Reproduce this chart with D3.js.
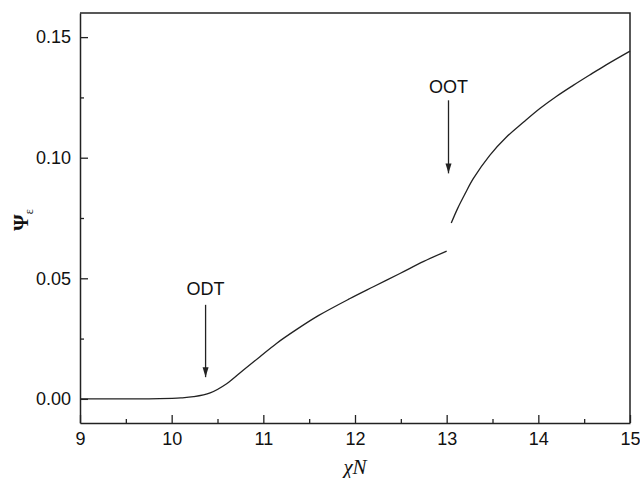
<!DOCTYPE html>
<html>
<head>
<meta charset="utf-8">
<script src="https://cdn.jsdelivr.net/npm/d3@7"></script>
<style>
  body { margin: 0; background: #fff; }
  svg { display: block; }
  .tick text { font-family: "Liberation Sans", Arial, sans-serif; }
</style>
</head>
<body>
<svg id="chart" width="640" height="478"></svg>
<script>
// DATA
const lowerX = [9.0, 9.5, 9.87, 10.1, 10.24, 10.42, 10.6, 10.78, 10.96, 11.14, 11.36, 11.6, 11.94, 12.2, 12.49, 12.75, 13.0];
const lowerY = [0, 0, 0.0001, 0.0004, 0.0009, 0.0025, 0.0063, 0.0119, 0.0174, 0.0229, 0.0287, 0.0345, 0.0415, 0.0465, 0.052, 0.057, 0.0613];
const upperX = [13.05, 13.12, 13.2, 13.29, 13.47, 13.65, 13.84, 14.02, 14.2, 14.38, 14.56, 14.74, 15.0];
const upperY = [0.0729, 0.079, 0.085, 0.0913, 0.101, 0.1085, 0.1148, 0.1205, 0.1255, 0.13, 0.1343, 0.1385, 0.1442];

const xTicks = [9, 10, 11, 12, 13, 14, 15];
const xMinor = [9.5, 10.5, 11.5, 12.5, 13.5, 14.5];
const yTicks = [0, 0.05, 0.1, 0.15];
const yMinor = [0.025, 0.075, 0.125];

// annotations: label, x, label baseline, arrow top, arrow tip
const notes = [
  { label: "ODT", x: 10.37, text: 0.0431, top: 0.039, tip: 0.009 },
  { label: "OOT", x: 13.02, text: 0.127, top: 0.1238, tip: 0.0935 },
];

// CANVAS SETUP
const margin = { top: 13, right: 10, bottom: 55, left: 80 };
const svg = d3.select("#chart");
const width = +svg.attr("width") - margin.left - margin.right,
  height = +svg.attr("height") - margin.top - margin.bottom;

const g = svg.append("g").attr("transform", `translate(${margin.left},${margin.top})`);

const x = d3.scaleLinear().domain([9, 15]).range([0, width]);
const y = d3.scaleLinear().domain([-0.01, 0.16]).range([height, 0]);

const ink = "#222";

// axes (ticks pointing inward)
const gx = g.append("g").attr("transform", `translate(0,${height})`)
  .call(d3.axisBottom(x).tickValues(xTicks).tickSizeInner(-8).tickSizeOuter(0).tickFormat(d3.format("d")));
g.append("g").attr("transform", `translate(0,${height})`)
  .call(d3.axisBottom(x).tickValues(xMinor).tickSizeInner(-4).tickSizeOuter(0).tickFormat(""))
  .select(".domain").remove();

const gy = g.append("g")
  .call(d3.axisLeft(y).tickValues(yTicks).tickSizeInner(-8).tickSizeOuter(0).tickFormat(d3.format(".2f")));
g.append("g")
  .call(d3.axisLeft(y).tickValues(yMinor).tickSizeInner(-4).tickSizeOuter(0).tickFormat(""))
  .select(".domain").remove();

g.selectAll(".tick line").attr("stroke", ink).attr("stroke-width", 1.3);
g.selectAll(".domain").attr("stroke", ink).attr("stroke-width", 1.5);
g.selectAll(".tick text").attr("font-size", 18).attr("fill", "#111");
gx.selectAll(".tick text").attr("dy", "0.71em").attr("y", 9);
gy.selectAll(".tick text").attr("x", -9);

// frame top + right
g.append("path")
  .attr("d", `M0,0H${width}V${height}`)
  .attr("fill", "none")
  .attr("stroke", ink)
  .attr("stroke-width", 1.5);

// curves
const line = d3.line()
  .x((d) => x(d[0]))
  .y((d) => y(d[1]))
  .curve(d3.curveCatmullRom.alpha(0.5));

const branches = [d3.zip(lowerX, lowerY), d3.zip(upperX, upperY)];

g.selectAll(".branch")
  .data(branches)
  .join("path")
  .attr("class", "branch")
  .attr("d", line)
  .attr("fill", "none")
  .attr("stroke", ink)
  .attr("stroke-width", 1.3);

// arrows + labels
svg.append("defs").append("marker")
  .attr("id", "head")
  .attr("viewBox", "0 0 10 10")
  .attr("refX", 10).attr("refY", 5)
  .attr("markerWidth", 10).attr("markerHeight", 10)
  .attr("markerUnits", "userSpaceOnUse")
  .attr("orient", "auto")
  .append("path")
  .attr("d", "M0,2L10,5L0,8Z")
  .attr("fill", ink);

const ga = g.append("g");
ga.selectAll("line")
  .data(notes)
  .join("line")
  .attr("x1", (d) => x(d.x)).attr("x2", (d) => x(d.x))
  .attr("y1", (d) => y(d.top)).attr("y2", (d) => y(d.tip))
  .attr("stroke", ink)
  .attr("stroke-width", 1.3)
  .attr("marker-end", "url(#head)");

ga.selectAll("text")
  .data(notes)
  .join("text")
  .attr("x", (d) => x(d.x))
  .attr("y", (d) => y(d.text))
  .attr("text-anchor", "middle")
  .attr("font-family", "Liberation Sans, Arial, sans-serif")
  .attr("font-size", 18)
  .attr("fill", "#111")
  .text((d) => d.label);

// axis titles
svg.append("text")
  .attr("x", margin.left + width / 2)
  .attr("y", 474)
  .attr("text-anchor", "middle")
  .attr("font-family", "Liberation Serif, Times New Roman, serif")
  .attr("font-style", "italic")
  .attr("font-size", 21)
  .attr("fill", "#111")
  .text("χN");

const yt = svg.append("text")
  .attr("transform", "translate(28,220) rotate(-90)")
  .attr("text-anchor", "middle")
  .attr("font-family", "Liberation Serif, Times New Roman, serif")
  .attr("fill", "#111");
yt.append("tspan").attr("font-size", 21).attr("font-weight", "bold").text("Ψ");
yt.append("tspan").attr("font-size", 12).attr("dy", 5).text("ε");
</script>
</body>
</html>
